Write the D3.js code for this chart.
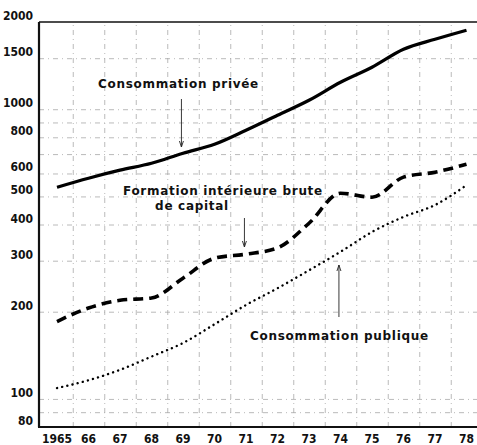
<!DOCTYPE html>
<html>
<head>
<meta charset="utf-8">
<script src="https://cdn.jsdelivr.net/npm/d3@7"></script>
<style>
  body { margin: 0; background: #fff; }
  svg { display: block; }
  .grid line { stroke: #a8a8a8; stroke-width: 0.8; stroke-dasharray: 5 4 1 4; }
  .grid path { display: none; }
  .ticklab { font-family: "DejaVu Sans Condensed", "DejaVu Sans"; font-weight: bold; font-size: 12px; fill: #111; }
  .note { font-family: "DejaVu Sans"; font-weight: bold; font-size: 12px; fill: #111; letter-spacing: 0.7px; }
</style>
</head>
<body>
<div id="chart"></div>
<script>
// years on the x axis
var years = [1965, 1966, 1967, 1968, 1969, 1970, 1971, 1972, 1973, 1974, 1975, 1976, 1977, 1978];
// labelled ticks on the log axis
var yTickLabels = [80, 100, 200, 300, 400, 500, 600, 800, 1000, 1500, 2000];
// dashed gridlines on the log axis
var yGridValues = [90, 100, 200, 300, 400, 500, 600, 700, 800, 900, 1000, 1500];

// series
var consoPrivee   = [538, 578, 616, 651, 705, 757, 846, 953, 1074, 1239, 1396, 1610, 1743, 1873];
var formationBrute = [185, 206, 219, 223, 261, 306, 316, 332, 404, 513, 497, 583, 606, 646];
var consoPublique = [109, 116, 126, 140, 156, 181, 211, 241, 278, 322, 377, 425, 467, 547];

var W = 477, H = 445;
// plot frame (not "top": that name is taken by window.top)
var mLeft = 39, mTop = 22, mBottom = 427, mRight = 477;

var svg = d3.select("#chart").append("svg")
    .attr("width", W)
    .attr("height", H);

var x = d3.scaleLinear()
    .domain([1965, 1978])
    .range([57, 466.5]);

var y = d3.scaleLog()
    .domain([80, 2000])
    .range([mBottom, mTop]);

// horizontal grid
svg.append("g")
    .attr("class", "grid")
    .attr("transform", "translate(" + mLeft + ",0)")
    .call(d3.axisLeft(y).tickValues(yGridValues).tickSize(-(mRight - mLeft)).tickFormat(""));

// vertical grid, half way between the years
var halfYears = years.slice(0, -1).map(function(d) { return d + 0.5; });
svg.append("g")
    .attr("class", "grid")
    .attr("transform", "translate(0," + mBottom + ")")
    .call(d3.axisBottom(x).tickValues(halfYears).tickSize(-(mBottom - mTop)).tickFormat(""));

// frame
svg.append("line").attr("x1", mLeft).attr("x2", mRight).attr("y1", mTop).attr("y2", mTop)
    .attr("stroke", "#111").attr("stroke-width", 1.6);
svg.append("line").attr("x1", mLeft).attr("x2", mLeft).attr("y1", mTop).attr("y2", mBottom)
    .attr("stroke", "#111").attr("stroke-width", 2.2);
svg.append("line").attr("x1", mLeft - 1).attr("x2", mRight).attr("y1", mBottom).attr("y2", mBottom)
    .attr("stroke", "#111").attr("stroke-width", 2.2);

// y labels
svg.append("g").selectAll("text")
    .data(yTickLabels)
    .enter().append("text")
    .attr("class", "ticklab")
    .attr("x", 33)
    .attr("y", function(d) { return y(d) - 2; })
    .attr("text-anchor", "end")
    .text(function(d) { return d; });

// x labels
svg.append("g").selectAll("text")
    .data(years)
    .enter().append("text")
    .attr("class", "ticklab")
    .attr("x", function(d) { return x(d); })
    .attr("y", 443)
    .attr("text-anchor", "middle")
    .text(function(d) { return d === 1965 ? "1965" : String(d).slice(2); });

// lines
var line = d3.line()
    .x(function(d, i) { return x(years[i]); })
    .y(function(d) { return y(d); })
    .curve(d3.curveMonotoneX);

svg.append("path")
    .attr("d", line(consoPrivee))
    .attr("fill", "none").attr("stroke", "#000").attr("stroke-width", 3.2);

svg.append("path")
    .attr("d", line(formationBrute))
    .attr("fill", "none").attr("stroke", "#000").attr("stroke-width", 3.6)
    .attr("stroke-dasharray", "10 6");

svg.append("path")
    .attr("d", line(consoPublique))
    .attr("fill", "none").attr("stroke", "#000").attr("stroke-width", 2.4)
    .attr("stroke-linecap", "round")
    .attr("stroke-dasharray", "0.1 5.2");

// annotations
svg.append("text").attr("class", "note").attr("x", 98).attr("y", 88).text("Consommation privée");
svg.append("text").attr("class", "note").attr("x", 123).attr("y", 195).text("Formation intérieure brute");
svg.append("text").attr("class", "note").attr("x", 192).attr("y", 210).attr("text-anchor", "middle").text("de capital");
svg.append("text").attr("class", "note").attr("x", 250).attr("y", 340).text("Consommation publique");

// arrows
function arrow(xv, y1, y2) {
    var px = x(xv);
    svg.append("line").attr("x1", px).attr("x2", px).attr("y1", y1).attr("y2", y2)
        .attr("stroke", "#222").attr("stroke-width", 0.9);
    var dir = y2 > y1 ? 1 : -1;
    svg.append("path")
        .attr("d", "M" + (px - 2) + "," + (y2 - dir * 6) + "L" + px + "," + y2 + "L" + (px + 2) + "," + (y2 - dir * 6))
        .attr("fill", "none").attr("stroke", "#222").attr("stroke-width", 0.9);
}
arrow(1968.95, 99, 147);
arrow(1970.95, 218, 247);
arrow(1973.95, 317, 265);
</script>
</body>
</html>
